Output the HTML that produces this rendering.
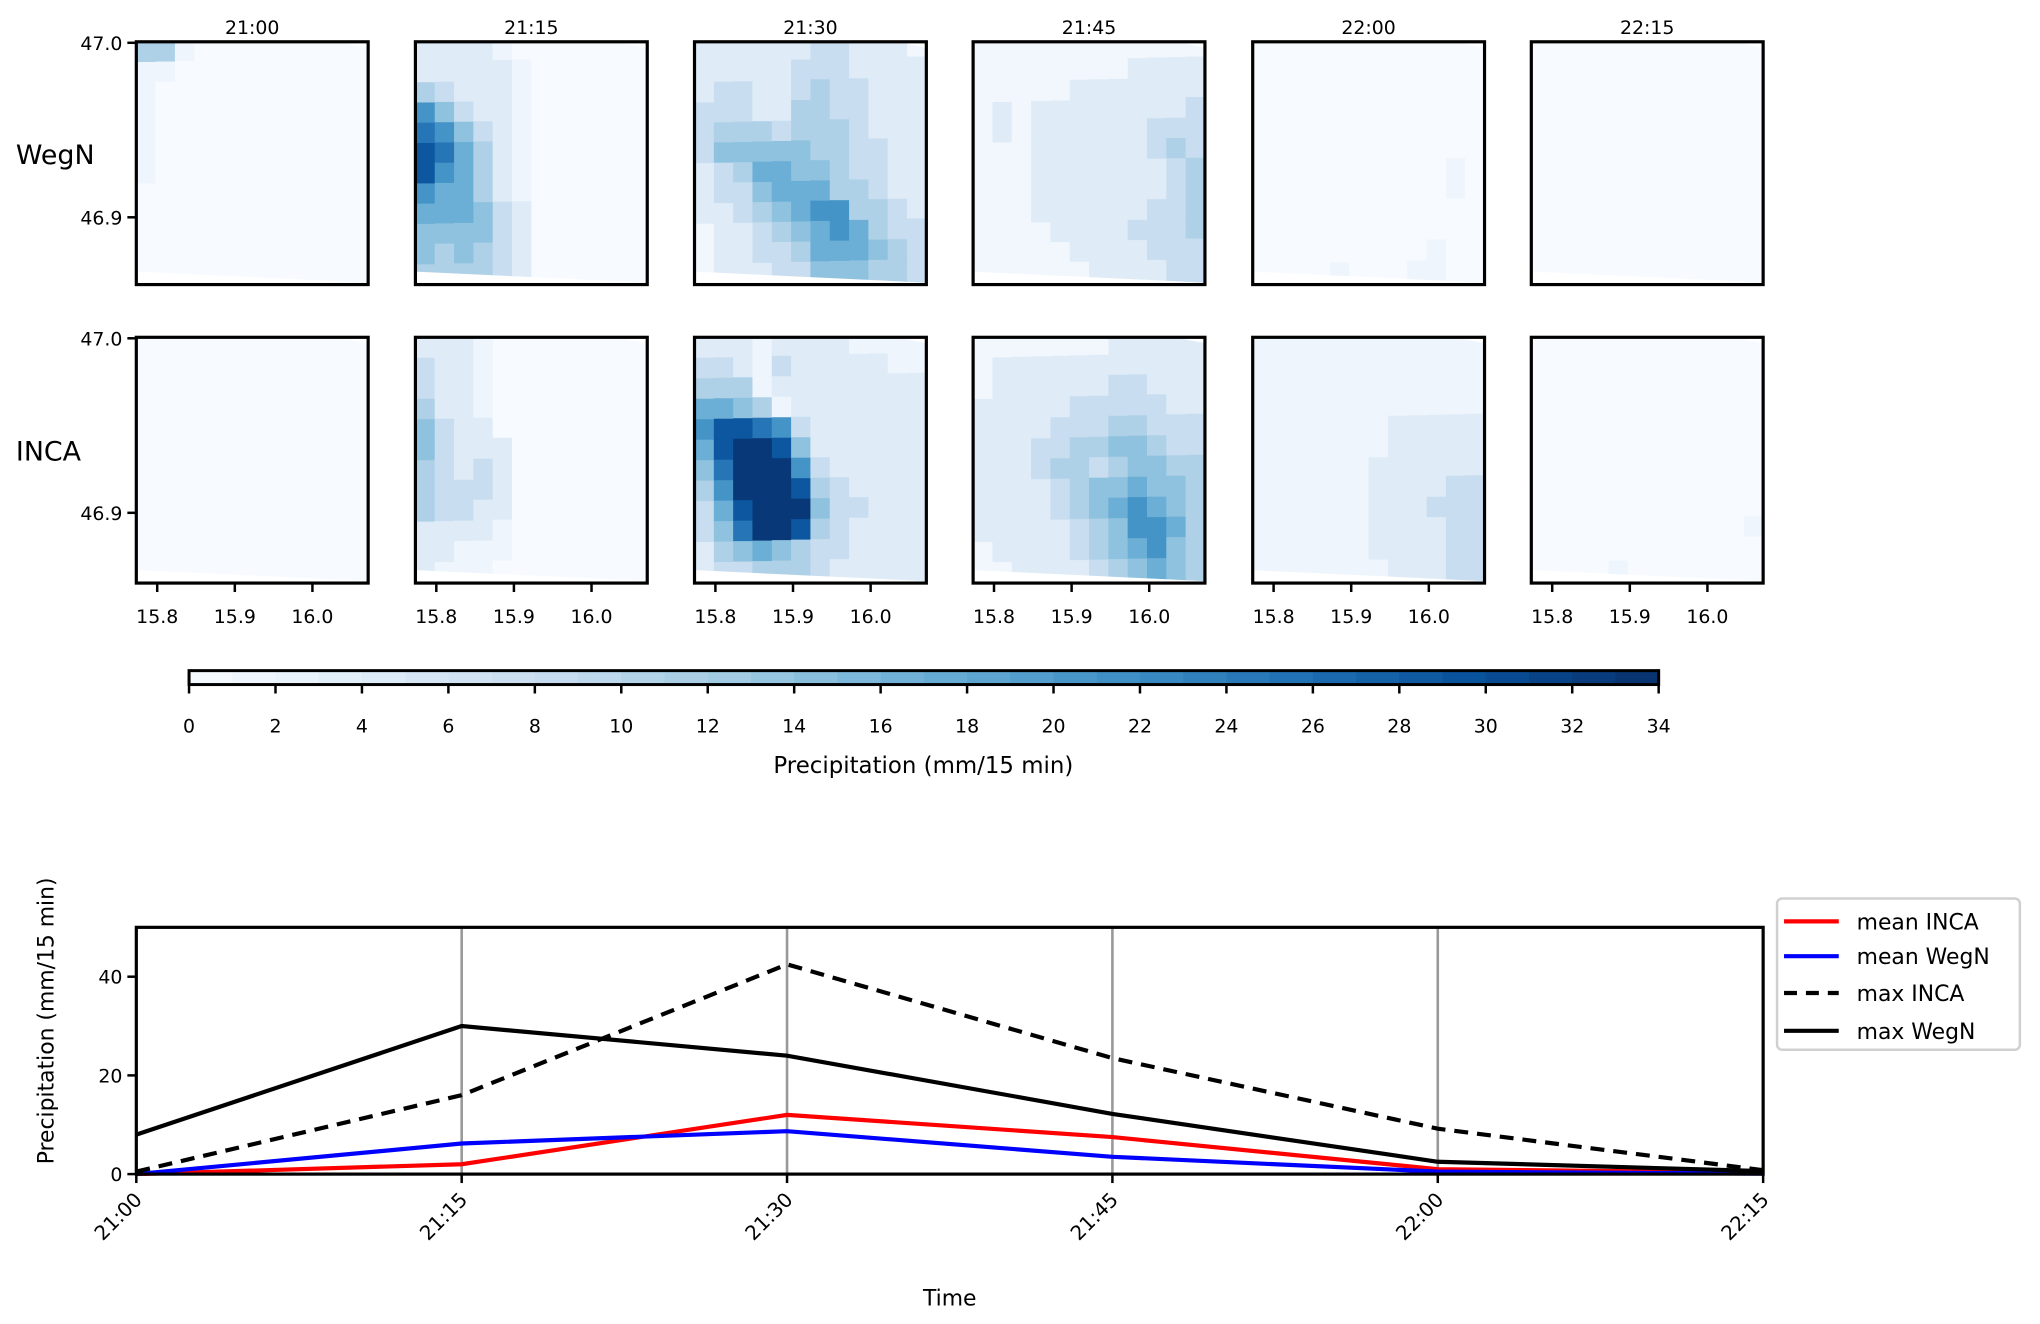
<!DOCTYPE html>
<html><head><meta charset="utf-8">
<style>
html,body{margin:0;padding:0;background:#fff;}
svg{display:block;font-family:"DejaVu Sans","Liberation Sans",sans-serif;}
</style></head>
<body>
<svg width="2040" height="1324" viewBox="0 0 2040 1324" xmlns="http://www.w3.org/2000/svg"><g id="fig" transform="scale(0.995)"></g></svg>
<script>
// ---------- data ----------
const times = ["21:00","21:15","21:30","21:45","22:00","22:15"];
const sources = ["WegN","INCA"];
const latTicks = [47.0, 46.9];
const lonTicks = [15.8, 15.9, 16.0];
const cbarTicks = [0,2,4,6,8,10,12,14,16,18,20,22,24,26,28,30,32,34];
// level codes: '.'=0, 'a'=~1.5mm, digits increasing intensity
const levelCodes = ".a0123456789";
const levelMm = [0, 1.5, 1, 4, 8, 11, 14, 17, 21, 25, 29, 33];
const gridWegN2100 = ["33a.........","aa..........","a...........","a...........","a...........","a...........","a...........","............","............","............","............","............"];
const gridWegN2115 = ["1111a.......","11111a......","32111a......","64211a......","76421a......","87531a......","86531a......","65531a......","555421......","444421......","434321......","333321......"];
const gridWegN2130 = ["111111221110","111112221111","122112322111","222113322111","233323332111","244444332211","123554432211","122455533211","112345663321","011234565322","011223555432","011122444332"];
const gridWegN2145 = ["000000000000","000000001111","000001111111","010111111112","010111111222","000111111232","000111111123","000111111123","000111111223","000011112223","000001111222","000000111122"];
const gridWegN2200 = ["............","............","............","............","............","............","..........a.","..........a.","............","............",".........a..","....a...aa.."];
const gridWegN2215 = ["............","............","............","............","............","............","............","............","............","............","............","............"];
const gridINCA2100 = ["............","............","............","............","............","............","............","............","............","............","............","............"];
const gridINCA2115 = ["111a........","211a........","211a........","311a........","4211........","42111.......","32121.......","32221.......","32211.......","1111a.......","11aaa.......","1aaa........"];
const gridINCA2130 = ["111a1111aaaa","221a211111aa","333a11111111","5543a1111111","688762111111","589984111111","479996211111","369998321111","258999422111","247998321111","134543221111","122333211111"];
const gridINCA2145 = ["000000011111","011111111111","011111122111","111112222211","111122233222","111223344322","111233234433","111123445443","111123456543","111112346653","011112345643","001111234543"];
const gridINCA2200 = ["aaaaaaaaaaaa","aaaaaaaaaaaa","aaaaaaaaaaaa","aaaaaaaaaaaa","aaaaaaa11111","aaaaaaa11111","aaaaaa111111","aaaaaa111122","aaaaaa111222","aaaaaa111122","aaaaaa111122","aaaaaaa11122"];
const gridINCA2215 = ["............","............","............","............","............","............","............","............","............","...........a","............","....a......."];
const gridsWegN = [gridWegN2100,gridWegN2115,gridWegN2130,gridWegN2145,gridWegN2200,gridWegN2215];
const gridsINCA = [gridINCA2100,gridINCA2115,gridINCA2130,gridINCA2145,gridINCA2200,gridINCA2215];

const yTicks = [0,20,40];
const meanINCA = [0, 2, 12, 7.5, 1, 0.3];
const meanWegN = [0, 6.2, 8.7, 3.5, 0.5, 0.1];
const maxINCA = [0.5, 16, 42.5, 23.5, 9.2, 0.8];
const maxWegN = [8, 30, 24, 12.2, 2.5, 0.6];
const seriesNames = ["mean INCA","mean WegN","max INCA","max WegN"];

// ---------- helpers ----------
const NS="http://www.w3.org/2000/svg";
const svg=document.getElementById('fig');
function mk(tag, attrs, parent){const e=document.createElementNS(NS,tag);for(const k in attrs)e.setAttribute(k,attrs[k]);(parent||svg).appendChild(e);return e;}
const blues=[[247,251,255],[222,235,247],[198,219,239],[158,202,225],[107,174,214],[66,146,198],[33,113,181],[8,81,156],[8,48,107]];
function cmap(v){let t=Math.max(0,Math.min(1,v/34))*8;const i=Math.min(7,Math.floor(t));const f=t-i;const a=blues[i],b=blues[i+1];
 return `rgb(${Math.round(a[0]+(b[0]-a[0])*f)},${Math.round(a[1]+(b[1]-a[1])*f)},${Math.round(a[2]+(b[2]-a[2])*f)})`;}

// ---------- map panels ----------
const colLefts=[137,417.5,698,978,1259,1539];
const pw=233;
const rowTops=[42,339]; const ph=[244,247];
const latScale=(lat,r)=> (r===0? 43+(47.0-lat)/0.1*175.4 : 340+(47.0-lat)/0.1*175.4);
const lonScale=(lon,c)=> colLefts[c]+21+(lon-15.8)/0.1*78;
const defs=mk('defs',{});
for(let r=0;r<2;r++){
 const grids = r===0?gridsWegN:gridsINCA;
 for(let c=0;c<6;c++){
  const x0=colLefts[c], y0=rowTops[r], h=ph[r];
  const g=mk('g',{});
  
  
  const cp=mk('clipPath',{id:'cp'+r+c},defs);
  mk('polygon',{points:`${x0},${y0} ${x0+pw-30},${y0} ${x0+pw},${y0+6} ${x0+pw},${y0+h-2} ${x0},${y0+h-13}`},cp);
  const cg=mk('g',{'clip-path':`url(#cp${r}${c})`},g);
  const grid=grids[c]; const nr=grid.length, nc=grid[0].length;
  const cw=pw/nc, chh=h/nr;
  for(let i=0;i<nr;i++)for(let j=0;j<nc;j++){
   const v=levelMm[levelCodes.indexOf(grid[i][j])];
   mk('rect',{x:x0+j*cw,y:y0+i*chh-(j*0.5),width:cw+0.6,height:chh+0.6+(i===nr-1?8:0),fill:cmap(v)},cg);
  }
  const fr=mk('rect',{x:x0,y:y0,width:pw,height:h,fill:'none',stroke:'#000','stroke-width':3.2},g);
  
  
  if(r===0){
   const t=mk('text',{x:x0+pw/2,y:y0-8,'text-anchor':'middle','font-size':19},g); t.textContent=times[c];
   
   
  }
  if(c===0){
   latTicks.forEach(lat=>{const y=latScale(lat,r);
    mk('line',{x1:x0-9,x2:x0,y1:y,y2:y,stroke:'#000','stroke-width':2.5},g);
    const t=mk('text',{x:x0-14,y:y+7,'text-anchor':'end','font-size':19},g);t.textContent=lat.toFixed(1);
    
    });
   const rl=mk('text',{x:16,y:(r===0?165:463),'font-size':27},g); rl.textContent=sources[r];
   
   
  }
  if(r===1){
   lonTicks.forEach(lon=>{const x=lonScale(lon,c);
    mk('line',{x1:x,x2:x,y1:y0+h,y2:y0+h+9,stroke:'#000','stroke-width':2.5},g);
    const t=mk('text',{x:x,y:y0+h+40,'text-anchor':'middle','font-size':19},g);t.textContent=lon.toFixed(1);
    
    });
  }
 }
}

// ---------- colorbar ----------
const cbX0=190,cbX1=1667,cbY=674,cbH=14;
const cbScale=v=>cbX0+(v/34)*(cbX1-cbX0);
const cb=mk('g',{});


for(let v=0;v<34;v++) mk('rect',{x:cbScale(v),y:cbY,width:cbScale(v+1)-cbScale(v)+0.5,height:cbH,fill:cmap(v+0.5)},cb);
mk('rect',{x:cbX0,y:cbY,width:cbX1-cbX0,height:cbH,fill:'none',stroke:'#000','stroke-width':3},cb);
cbarTicks.forEach(v=>{const x=cbScale(v);
 mk('line',{x1:x,x2:x,y1:cbY+cbH,y2:cbY+cbH+9,stroke:'#000','stroke-width':2.5},cb);
 const t=mk('text',{x:x,y:736,'text-anchor':'middle','font-size':19},cb);t.textContent=v;
 
 });
const cbl=mk('text',{x:928,y:777,'text-anchor':'middle','font-size':23},cb);cbl.textContent='Precipitation (mm/15 min)';



// ---------- time series ----------
const pX0=137,pX1=1772,pY0=932,pY1=1180;
const xs=i=>pX0+i*(pX1-pX0)/(times.length-1);
const ys=v=>pY1-(v/50)*(pY1-pY0);
const ts=mk('g',{});


times.forEach((t,i)=>{ if(i>0&&i<times.length-1) mk('line',{x1:xs(i),x2:xs(i),y1:pY0,y2:pY1,stroke:'#999','stroke-width':2.6},ts);});
const seriesData=[meanINCA,meanWegN,maxINCA,maxWegN];
const seriesColor=['#ff0000','#0000ff','#000','#000'];
const seriesDash=['none','none','14,9','none'];
const cp2=mk('clipPath',{id:'cpts'},defs);mk('rect',{x:pX0,y:pY0-2,width:pX1-pX0+3,height:pY1-pY0+4},cp2);
seriesData.forEach((d,k)=>{
 const p=mk('polyline',{points:d.map((v,i)=>xs(i)+','+ys(v)).join(' '),fill:'none',stroke:seriesColor[k],'stroke-width':4.2,'stroke-dasharray':seriesDash[k],'stroke-linejoin':'miter','clip-path':'url(#cpts)'},ts);
 
 
});
mk('rect',{x:pX0,y:pY0,width:pX1-pX0,height:pY1-pY0,fill:'none',stroke:'#000','stroke-width':3.2},ts);
yTicks.forEach(v=>{const y=ys(v);
 mk('line',{x1:pX0-9,x2:pX0,y1:y,y2:y,stroke:'#000','stroke-width':2.5},ts);
 const t=mk('text',{x:pX0-14,y:y+7,'text-anchor':'end','font-size':19},ts);t.textContent=v;
 
 });
times.forEach((tm,i)=>{const x=xs(i);
 mk('line',{x1:x,x2:x,y1:pY1,y2:pY1+9,stroke:'#000','stroke-width':2.5},ts);
 const t=mk('text',{x:x+7,y:pY1+27,'text-anchor':'end','font-size':20,transform:`rotate(-45 ${x+7} ${pY1+27})`},ts);t.textContent=tm;
 
 });
const yl=mk('text',{x:0,y:0,'text-anchor':'middle','font-size':22,transform:`translate(54 ${(pY0+pY1)/2-30}) rotate(-90)`},ts);yl.textContent='Precipitation (mm/15 min)';


const xl=mk('text',{x:(pX0+pX1)/2,y:1312,'text-anchor':'middle','font-size':22},ts);xl.textContent='Time';



// legend
const lg=mk('g',{});


mk('rect',{x:1786,y:903,width:244,height:152,rx:5,fill:'#fff',stroke:'#d0d0d0','stroke-width':2.5},lg);
const legY=[926,961,998,1036];
seriesNames.forEach((n,k)=>{
 const e=mk('g',{},lg);
 
 
 mk('line',{x1:1793,x2:1848,y1:legY[k],y2:legY[k],stroke:seriesColor[k],'stroke-width':4.2,'stroke-dasharray':seriesDash[k]==='none'?'none':'13,9'},e);
 const t=mk('text',{x:1866,y:legY[k]+8,'font-size':22},e);t.textContent=n;
});
</script>
</body></html>
